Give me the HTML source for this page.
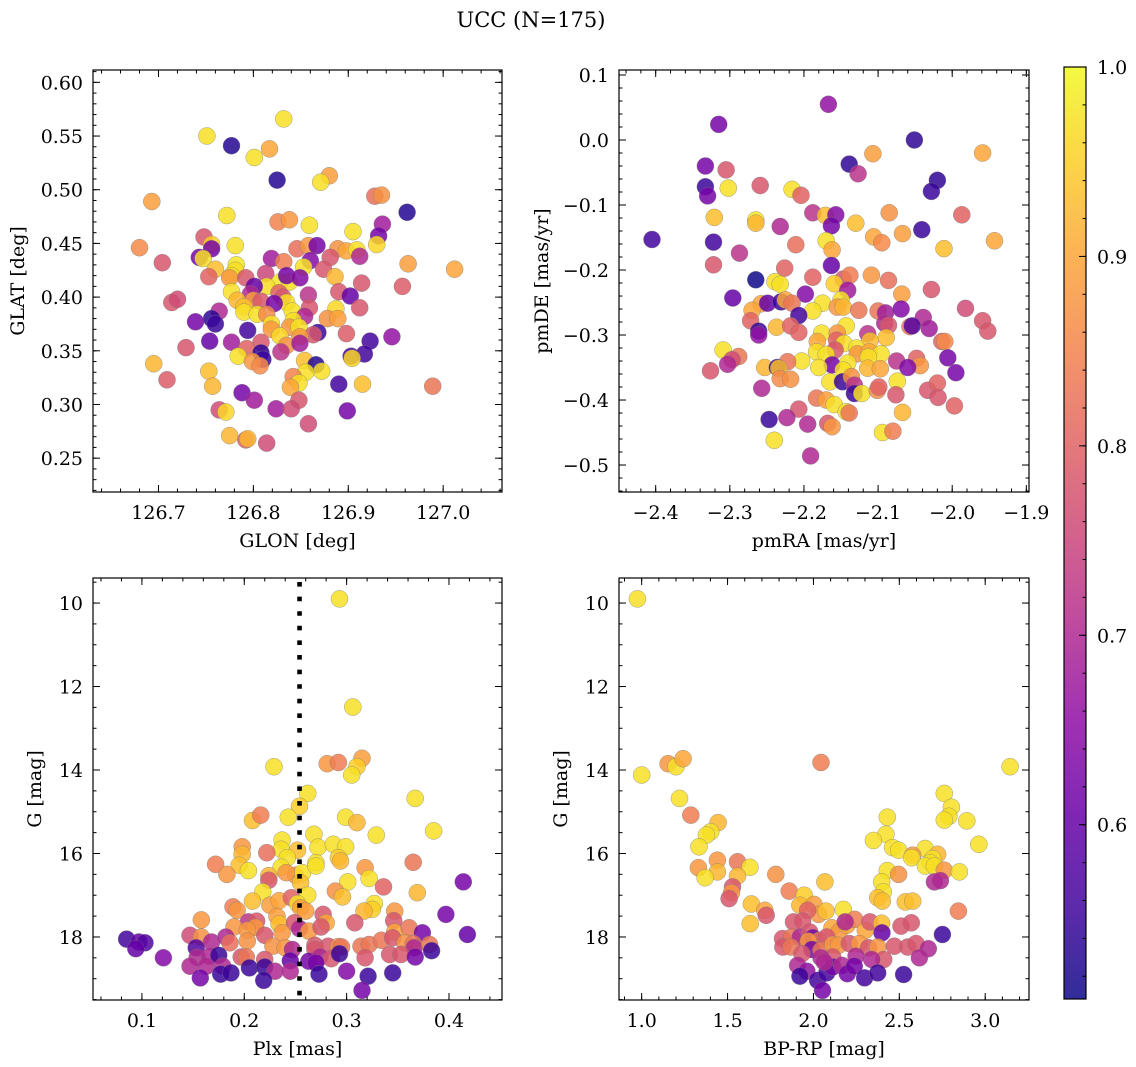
<!DOCTYPE html>
<html><head><meta charset="utf-8">
<style>
html,body{margin:0;padding:0;background:#fff;}
svg{display:block;font-family:"DejaVu Serif","Liberation Serif",serif;}
</style></head>
<body>
<svg id="fig" width="1136" height="1067" viewBox="0 0 1136 1067" xmlns="http://www.w3.org/2000/svg">
<defs><linearGradient id="cbgrad" x1="0" y1="1" x2="0" y2="0"></linearGradient></defs>
<text x="531" y="27" font-size="21" text-anchor="middle">UCC (N=175)</text>
</svg>
<script>
// ---------- data ----------
const p1_glon=[126.832,126.751,126.777,126.801,126.817,126.825,126.880,126.871,126.693,126.928,126.935,126.962,126.772,126.826,126.838,126.859,126.936,126.905,126.932,126.930,126.680,126.748,126.756,126.756,126.781,126.846,126.858,126.867,126.889,126.898,126.909,126.912,126.881,126.819,126.743,126.747,126.704,126.832,126.860,126.782,126.781,126.760,126.853,126.963,127.012,126.874,126.753,126.777,126.775,126.792,126.813,126.828,126.838,126.835,126.849,126.814,126.801,126.886,126.914,126.957,126.858,126.890,126.902,126.777,126.797,126.827,126.831,126.714,126.720,126.783,126.800,126.808,126.835,126.822,126.790,126.790,126.764,126.841,126.859,126.887,126.912,126.804,126.814,126.854,126.878,126.889,126.739,126.756,126.760,126.842,126.819,126.819,126.838,126.848,126.794,126.868,126.863,126.898,126.828,126.849,126.946,126.754,126.777,126.808,126.835,126.849,126.923,126.729,126.793,126.829,126.917,126.808,126.810,126.784,126.903,126.904,126.695,126.799,126.807,126.854,126.866,126.872,126.855,126.753,126.709,126.842,126.848,126.839,126.757,126.890,126.915,126.989,126.788,126.801,126.848,126.764,126.771,126.824,126.840,126.899,126.858,126.775,126.792,126.794,126.814];
const p1_glat=[0.566,0.550,0.541,0.530,0.538,0.509,0.513,0.507,0.489,0.494,0.495,0.479,0.476,0.470,0.472,0.467,0.468,0.461,0.457,0.449,0.446,0.456,0.449,0.445,0.448,0.445,0.448,0.448,0.445,0.443,0.444,0.438,0.437,0.436,0.437,0.436,0.432,0.433,0.434,0.430,0.425,0.426,0.428,0.431,0.426,0.426,0.419,0.420,0.418,0.418,0.422,0.414,0.414,0.420,0.418,0.410,0.410,0.419,0.413,0.410,0.402,0.405,0.401,0.405,0.403,0.404,0.400,0.395,0.398,0.397,0.397,0.396,0.395,0.394,0.391,0.386,0.387,0.387,0.390,0.389,0.390,0.384,0.384,0.382,0.380,0.380,0.377,0.380,0.375,0.378,0.375,0.370,0.372,0.372,0.369,0.367,0.365,0.366,0.364,0.363,0.363,0.359,0.358,0.358,0.355,0.357,0.359,0.353,0.352,0.349,0.347,0.348,0.342,0.345,0.345,0.343,0.338,0.340,0.336,0.341,0.337,0.331,0.330,0.331,0.323,0.326,0.320,0.316,0.317,0.319,0.319,0.317,0.311,0.304,0.304,0.295,0.293,0.296,0.296,0.294,0.282,0.271,0.267,0.268,0.264];
const p1_prob=[.97,.97,.53,.97,.9,.53,.89,.97,.89,.82,.87,.53,.97,.85,.88,.97,.68,.97,.62,.96,.86,.78,.95,.62,.97,.82,.88,.62,.87,.9,.97,.7,.78,.68,.62,.97,.78,.84,.64,.98,.97,.93,.97,.89,.9,.78,.8,.97,.88,.78,.75,.98,.97,.62,.64,.97,.6,.92,.78,.79,.72,.78,.6,.97,.7,.8,.78,.78,.76,.92,.89,.78,.97,.62,.93,.97,.7,.97,.78,.96,.78,.97,.86,.7,.87,.89,.62,.54,.55,.97,.97,.88,.88,.97,.56,.55,.78,.79,.96,.88,.66,.6,.68,.78,.87,.68,.56,.78,.8,.72,.56,.54,.55,.97,.56,.96,.92,.88,.86,.93,.53,.97,.97,.93,.79,.85,.97,.9,.92,.56,.93,.83,.62,.68,.78,.76,.96,.68,.76,.62,.76,.92,.8,.92,.76];

const p2_pmra=[-2.167,-2.315,-2.051,-2.107,-1.959,-2.333,-2.305,-2.139,-2.127,-2.020,-2.028,-2.333,-2.330,-2.302,-2.259,-2.216,-2.204,-2.188,-2.171,-2.157,-2.163,-2.130,-2.085,-1.987,-2.321,-2.265,-2.265,-2.232,-2.106,-2.095,-2.067,-2.041,-2.011,-1.943,-2.405,-2.322,-2.211,-2.170,-2.162,-2.287,-2.322,-2.163,-2.226,-2.188,-2.265,-2.239,-2.232,-2.147,-2.138,-2.109,-2.086,-2.159,-2.141,-2.028,-2.068,-2.296,-2.198,-2.150,-2.258,-2.249,-2.231,-2.225,-2.216,-2.175,-2.155,-2.147,-2.270,-2.188,-2.126,-2.100,-2.090,-2.069,-1.982,-2.207,-2.272,-2.039,-1.959,-2.091,-2.086,-2.237,-2.218,-2.143,-2.057,-2.054,-2.031,-1.952,-2.261,-2.261,-2.207,-2.176,-2.155,-2.114,-2.089,-2.182,-2.156,-2.146,-2.111,-2.014,-2.010,-2.309,-2.183,-2.158,-2.129,-2.128,-2.112,-2.096,-2.170,-2.288,-2.297,-2.113,-2.006,-2.203,-2.222,-2.075,-2.048,-2.303,-2.162,-2.141,-2.043,-2.253,-2.236,-2.234,-2.180,-2.147,-2.114,-2.097,-2.060,-2.326,-1.995,-2.232,-2.218,-2.165,-2.148,-2.136,-2.074,-2.257,-2.132,-2.132,-2.122,-2.101,-2.099,-2.076,-2.033,-2.020,-2.183,-2.170,-2.159,-2.019,-1.997,-2.207,-2.143,-2.139,-2.067,-2.247,-2.223,-2.195,-2.168,-2.162,-2.094,-2.080,-2.240,-2.191];
const p2_pmde=[0.055,0.024,0.000,-0.021,-0.020,-0.040,-0.046,-0.037,-0.052,-0.062,-0.079,-0.072,-0.086,-0.074,-0.070,-0.076,-0.085,-0.112,-0.116,-0.115,-0.132,-0.128,-0.112,-0.115,-0.119,-0.123,-0.128,-0.133,-0.149,-0.158,-0.144,-0.138,-0.167,-0.155,-0.153,-0.157,-0.161,-0.155,-0.169,-0.174,-0.192,-0.193,-0.197,-0.211,-0.215,-0.218,-0.222,-0.214,-0.208,-0.208,-0.216,-0.221,-0.231,-0.230,-0.237,-0.243,-0.237,-0.246,-0.252,-0.251,-0.249,-0.246,-0.251,-0.251,-0.257,-0.257,-0.262,-0.263,-0.262,-0.263,-0.266,-0.260,-0.259,-0.270,-0.278,-0.273,-0.278,-0.282,-0.285,-0.288,-0.286,-0.286,-0.287,-0.286,-0.290,-0.294,-0.294,-0.300,-0.296,-0.297,-0.297,-0.298,-0.304,-0.310,-0.308,-0.313,-0.309,-0.310,-0.310,-0.323,-0.326,-0.323,-0.320,-0.329,-0.326,-0.329,-0.330,-0.333,-0.338,-0.334,-0.335,-0.340,-0.341,-0.340,-0.336,-0.345,-0.346,-0.343,-0.347,-0.350,-0.350,-0.351,-0.350,-0.354,-0.351,-0.352,-0.350,-0.355,-0.358,-0.367,-0.368,-0.372,-0.372,-0.364,-0.371,-0.382,-0.377,-0.390,-0.390,-0.385,-0.380,-0.392,-0.385,-0.374,-0.397,-0.400,-0.407,-0.396,-0.409,-0.414,-0.418,-0.420,-0.419,-0.430,-0.427,-0.437,-0.436,-0.441,-0.450,-0.448,-0.462,-0.486];
const p2_prob=[.66,.62,.54,.89,.9,.62,.78,.54,.72,.54,.55,.55,.62,.97,.78,.97,.8,.72,.93,.64,.62,.93,.87,.8,.93,.98,.92,.7,.9,.86,.89,.55,.93,.9,.56,.56,.82,.97,.9,.72,.78,.6,.8,.8,.51,.97,.97,.78,.84,.88,.82,.95,.68,.78,.89,.6,.64,.97,.9,.6,.55,.9,.83,.97,.88,.92,.9,.97,.83,.83,.68,.64,.76,.56,.8,.7,.78,.7,.78,.92,.8,.97,.84,.58,.68,.78,.55,.66,.8,.97,.88,.72,.93,.9,.8,.97,.93,.8,.86,.97,.97,.78,.97,.88,.9,.97,.97,.83,.76,.97,.62,.97,.83,.72,.8,.7,.62,.97,.88,.92,.55,.93,.97,.97,.92,.9,.64,.78,.62,.86,.87,.97,.55,.87,.97,.7,.72,.55,.97,.86,.8,.78,.78,.8,.83,.89,.97,.78,.8,.78,.97,.83,.92,.55,.7,.7,.78,.88,.97,.84,.97,.7];

const p3_plx=[0.293,0.306,0.229,0.281,0.292,0.315,0.310,0.305,0.262,0.367,0.254,0.208,0.216,0.243,0.299,0.310,0.385,0.268,0.329,0.237,0.236,0.198,0.198,0.222,0.252,0.272,0.287,0.299,0.242,0.292,0.294,0.365,0.172,0.195,0.204,0.183,0.236,0.250,0.257,0.270,0.270,0.318,0.224,0.224,0.241,0.255,0.301,0.322,0.336,0.369,0.414,0.218,0.262,0.289,0.296,0.208,0.225,0.234,0.246,0.252,0.255,0.260,0.327,0.325,0.317,0.189,0.193,0.347,0.158,0.204,0.212,0.232,0.234,0.249,0.277,0.280,0.308,0.346,0.397,0.190,0.211,0.203,0.220,0.237,0.254,0.263,0.275,0.347,0.361,0.374,0.418,0.085,0.097,0.103,0.094,0.147,0.158,0.168,0.182,0.186,0.153,0.203,0.228,0.240,0.247,0.269,0.269,0.282,0.292,0.295,0.314,0.322,0.334,0.345,0.357,0.365,0.366,0.381,0.383,0.121,0.154,0.166,0.175,0.197,0.202,0.220,0.245,0.263,0.274,0.285,0.293,0.318,0.342,0.353,0.367,0.147,0.163,0.179,0.177,0.187,0.205,0.220,0.230,0.245,0.270,0.273,0.300,0.321,0.345,0.157,0.219,0.315];
const p3_g=[9.90,12.49,13.92,13.85,13.82,13.72,13.92,14.12,14.56,14.68,14.87,15.21,15.08,15.13,15.13,15.26,15.46,15.54,15.56,15.68,15.90,15.84,16.02,15.98,15.92,15.85,15.78,15.84,16.10,16.10,16.18,16.21,16.26,16.28,16.41,16.50,16.33,16.52,16.46,16.22,16.30,16.34,16.53,16.64,16.46,16.70,16.68,16.60,16.80,16.94,16.68,16.92,17.00,16.90,17.04,17.14,17.24,17.13,17.06,17.20,17.30,17.38,17.20,17.34,17.38,17.28,17.36,17.38,17.59,17.64,17.62,17.51,17.69,17.66,17.46,17.66,17.66,17.61,17.46,17.76,17.77,17.84,17.96,17.90,17.80,17.86,17.76,17.88,17.78,17.90,17.94,18.05,18.12,18.14,18.28,17.96,18.00,18.12,18.00,18.14,18.26,18.10,18.22,18.26,18.30,18.20,18.30,18.22,18.23,18.24,18.22,18.18,18.08,18.02,18.14,18.16,18.26,18.18,18.33,18.50,18.49,18.46,18.44,18.48,18.48,18.54,18.57,18.58,18.48,18.52,18.40,18.50,18.42,18.42,18.48,18.70,18.70,18.70,18.89,18.86,18.74,18.72,18.82,18.82,18.62,18.89,18.82,18.94,18.86,18.98,19.04,19.28];
const p3_prob=[.97,.97,.97,.88,.84,.89,.95,.97,.97,.97,.95,.93,.84,.97,.97,.92,.97,.97,.97,.97,.97,.88,.92,.82,.93,.97,.97,.97,.97,.95,.92,.83,.84,.93,.97,.88,.97,.88,.97,.97,.97,.88,.92,.78,.88,.93,.97,.97,.8,.92,.62,.97,.97,.87,.93,.93,.89,.9,.8,.97,.89,.89,.97,.95,.92,.84,.88,.88,.88,.72,.78,.89,.93,.78,.78,.9,.78,.78,.62,.88,.88,.88,.78,.88,.7,.88,.78,.9,.83,.62,.6,.56,.6,.58,.6,.76,.87,.7,.7,.82,.58,.87,.87,.88,.7,.78,.78,.78,.87,.83,.83,.83,.83,.78,.87,.83,.7,.83,.55,.64,.7,.7,.55,.78,.83,.78,.6,.62,.7,.78,.55,.78,.78,.78,.62,.7,.7,.7,.55,.55,.55,.55,.7,.7,.62,.55,.64,.55,.55,.62,.55,.62];
const plxLine=[0.254];

const p4_bprp=[0.975,1.000,1.154,1.200,1.241,2.044,3.145,1.220,1.286,2.762,2.803,2.788,2.762,2.893,1.445,1.402,1.377,2.430,2.422,2.349,2.963,1.334,2.461,2.496,2.650,2.723,2.578,2.572,2.694,2.679,2.652,2.704,2.762,2.850,1.441,1.558,1.330,1.441,1.630,1.369,1.558,1.781,2.067,2.430,2.496,2.704,2.739,2.397,1.529,1.523,1.509,1.859,1.946,2.407,2.374,2.401,2.535,2.578,1.639,1.921,2.003,1.717,1.725,2.030,2.073,2.174,2.844,1.966,1.632,1.884,1.937,2.108,2.152,2.195,2.240,2.185,2.302,2.329,2.397,2.399,2.510,2.570,2.751,1.820,1.874,1.923,1.979,1.997,2.034,2.077,1.970,1.822,1.869,1.991,1.933,2.044,2.112,2.146,2.209,2.267,2.321,2.374,2.471,2.549,2.597,2.669,2.617,2.409,2.339,2.248,2.112,2.044,1.908,1.962,1.921,2.024,2.053,2.078,2.112,2.166,2.197,2.238,2.298,2.374,2.525,2.063];
const p4_g=[9.90,14.12,13.85,13.92,13.73,13.82,13.92,14.68,15.08,14.56,14.89,15.11,15.20,15.22,15.26,15.48,15.56,15.13,15.54,15.69,15.78,15.84,15.86,15.92,15.88,16.02,16.04,16.10,16.12,16.22,16.30,16.30,16.40,16.44,16.16,16.20,16.34,16.44,16.33,16.58,16.54,16.50,16.68,16.41,16.50,16.68,16.65,16.68,16.80,16.94,17.08,16.90,17.00,16.92,17.06,17.14,17.16,17.14,17.21,17.24,17.22,17.36,17.48,17.46,17.38,17.34,17.38,17.36,17.68,17.64,17.62,17.78,17.86,17.72,17.58,17.64,17.84,17.64,17.67,17.90,17.74,17.66,17.94,18.04,18.00,18.00,17.88,18.02,18.08,18.00,18.10,18.24,18.24,18.30,18.40,18.32,18.18,18.20,18.16,18.16,18.26,18.24,18.22,18.24,18.16,18.28,18.50,18.54,18.54,18.46,18.48,18.50,18.68,18.82,18.94,19.04,19.28,18.86,18.72,18.68,18.88,18.70,18.98,18.86,18.90,18.60];
const p4_prob=[.97,.97,.88,.97,.9,.84,.97,.97,.84,.97,.97,.97,.97,.97,.92,.97,.97,.97,.97,.97,.97,.97,.97,.97,.97,.92,.88,.97,.97,.97,.97,.97,.88,.97,.88,.83,.88,.92,.97,.97,.92,.87,.93,.97,.87,.7,.7,.97,.78,.88,.78,.84,.95,.97,.93,.93,.93,.93,.93,.92,.89,.9,.78,.88,.93,.97,.84,.8,.93,.78,.78,.9,.88,.9,.84,.7,.9,.78,.93,.6,.78,.78,.55,.78,.83,.7,.78,.62,.83,.78,.88,.78,.83,.62,.78,.83,.88,.88,.78,.88,.78,.88,.78,.78,.78,.7,.7,.78,.7,.7,.78,.7,.7,.66,.55,.56,.62,.56,.62,.7,.62,.62,.56,.56,.55,.7];

const cbTicks=[0.6,0.7,0.8,0.9,1.0];
const vmin=0.508, vmax=1.0;

// ---------- rendering ----------
const NS="http://www.w3.org/2000/svg";
const svg=document.getElementById('fig');
const FS=19;
function mk(tag,attrs,parent){const e=document.createElementNS(NS,tag);for(const k in attrs)e.setAttribute(k,attrs[k]);(parent||svg).appendChild(e);return e;}
const plasma=[[13,8,135],[65,4,157],[106,0,168],[143,13,164],[177,42,144],[204,71,120],[225,100,98],[242,132,75],[252,166,54],[252,206,37],[240,249,33]];
function cmap(v){let t=(v-vmin)/(vmax-vmin);t=Math.max(0,Math.min(1,t));const f=t*10,i=Math.min(9,Math.floor(f)),r=f-i;const a=plasma[i],b=plasma[i+1];return 'rgb('+[0,1,2].map(k=>Math.round(a[k]+(b[k]-a[k])*r)).join(',')+')';}
function range(lo,hi,step){const out=[];const s=Math.ceil(lo/step-1e-6);for(let k=s;k*step<=hi+1e-9;k++)out.push(+(k*step).toFixed(6));return out;}
function fmt(v,d){const s=Math.abs(v).toFixed(d);return (v<-1e-9?'\u2212':'')+s;}

function panel(id,box,xd,yd,xs,ys,xlab,ylab,ylabX,xdec,ydec,xv,yv,cv){
  const g=mk('g',{});
  
  
  const [L,T,R,B]=box;
  const X=v=>L+(v-xd[0])/(xd[1]-xd[0])*(R-L);
  const Y=v=>T+(v-yd[0])/(yd[1]-yd[0])*(B-T);
  const pts=mk('g',{},g);
  
  
  for(let i=0;i<xv.length;i++){
    const c=mk('circle',{cx:X(xv[i]).toFixed(1),cy:Y(yv[i]).toFixed(1),r:8.5,fill:cmap(cv[i]),'fill-opacity':0.85,stroke:'#777','stroke-opacity':0.7,'stroke-width':0.5},pts);
    
    
  }
  const fr=mk('rect',{x:L,y:T,width:R-L,height:B-T,fill:'none',stroke:'#000','stroke-width':1.2},g);
  
  
  const xlo=Math.min(xd[0],xd[1]),xhi=Math.max(xd[0],xd[1]),ylo=Math.min(yd[0],yd[1]),yhi=Math.max(yd[0],yd[1]);
  const tk=mk('g',{stroke:'#000','stroke-width':1},g);
  
  
  range(xlo,xhi,xs[1]).forEach(v=>{const x=X(v);mk('line',{x1:x,x2:x,y1:B,y2:B-3.5},tk);mk('line',{x1:x,x2:x,y1:T,y2:T+3.5},tk);});
  range(ylo,yhi,ys[1]).forEach(v=>{const y=Y(v);mk('line',{x1:L,x2:L+3.5,y1:y,y2:y},tk);mk('line',{x1:R,x2:R-3.5,y1:y,y2:y},tk);});
  range(xlo,xhi,xs[0]).forEach(v=>{const x=X(v);mk('line',{x1:x,x2:x,y1:B,y2:B-7},tk);mk('line',{x1:x,x2:x,y1:T,y2:T+7},tk);
    const t=mk('text',{x:x,y:B+27,'font-size':FS,'text-anchor':'middle'},g);t.textContent=fmt(v,xdec);
    
    });
  range(ylo,yhi,ys[0]).forEach(v=>{const y=Y(v);mk('line',{x1:L,x2:L+7,y1:y,y2:y},tk);mk('line',{x1:R,x2:R-7,y1:y,y2:y},tk);
    const t=mk('text',{x:L-10,y:y+7,'font-size':FS,'text-anchor':'end'},g);t.textContent=fmt(v,ydec);
    
    });
  const xt=mk('text',{x:(L+R)/2,y:B+55,'font-size':FS,'text-anchor':'middle'},g);xt.textContent=xlab;
  
  
  const cy=(T+B)/2;
  const yt=mk('text',{x:ylabX,y:cy,'font-size':FS,'text-anchor':'middle',transform:'rotate(-90 '+ylabX+' '+cy+')'},g);yt.textContent=ylab;
  
  
  return {X,Y,g};
}

panel('glon-glat-panel',[93,70,502,492],[126.631,127.062],[0.6115,0.2185],[0.1,0.02],[0.05,0.01],'GLON [deg]','GLAT [deg]',24,1,2,p1_glon,p1_glat,p1_prob);
panel('pm-panel',[619,70,1029,492],[-2.4495,-1.8964],[0.1077,-0.5415],[0.1,0.02],[0.1,0.02],'pmRA [mas/yr]','pmDE [mas/yr]',548,1,1,p2_pmra,p2_pmde,p2_prob);
const p3=panel('plx-g-panel',[93,578,502,1000],[0.0522,0.4518],[9.40,19.51],[0.1,0.02],[2,0.5],'Plx [mas]','G [mag]',41,1,0,p3_plx,p3_g,p3_prob);
panel('cmd-panel',[619,578,1029,1000],[0.868,3.255],[9.40,19.51],[0.5,0.1],[2,0.5],'BP-RP [mag]','G [mag]',567,1,0,p4_bprp,p4_g,p4_prob);

plxLine.forEach(v=>{const l=mk('line',{x1:p3.X(v),x2:p3.X(v),y1:582,y2:1000,stroke:'#000','stroke-width':4.6,'stroke-dasharray':'4.6 10'},p3.g);
  
  });

// colorbar
const grad=document.getElementById('cbgrad');
for(let i=0;i<=20;i++){const v=vmin+(vmax-vmin)*i/20;mk('stop',{offset:(i/20),'stop-color':cmap(v),'stop-opacity':0.85},grad);}
const cbL=1064,cbR=1086,cbT=67,cbB=999;
const cbY=v=>cbB-(v-vmin)/(vmax-vmin)*(cbB-cbT);
const cb=mk('g',{});


mk('rect',{x:cbL,y:cbT,width:cbR-cbL,height:cbB-cbT,fill:'url(#cbgrad)',stroke:'#000','stroke-width':1.2},cb);
range(0.52,1.0,0.02).forEach(v=>{const y=cbY(v);mk('line',{x1:cbR,x2:cbR-3.5,y1:y,y2:y,stroke:'#000'},cb);});
cbTicks.forEach(v=>{const y=cbY(v);mk('line',{x1:cbR,x2:cbR-7,y1:y,y2:y,stroke:'#000'},cb);
  const t=mk('text',{x:1097,y:y+7,'font-size':FS},cb);t.textContent=v.toFixed(1);
  
  });
</script>
</body></html>
